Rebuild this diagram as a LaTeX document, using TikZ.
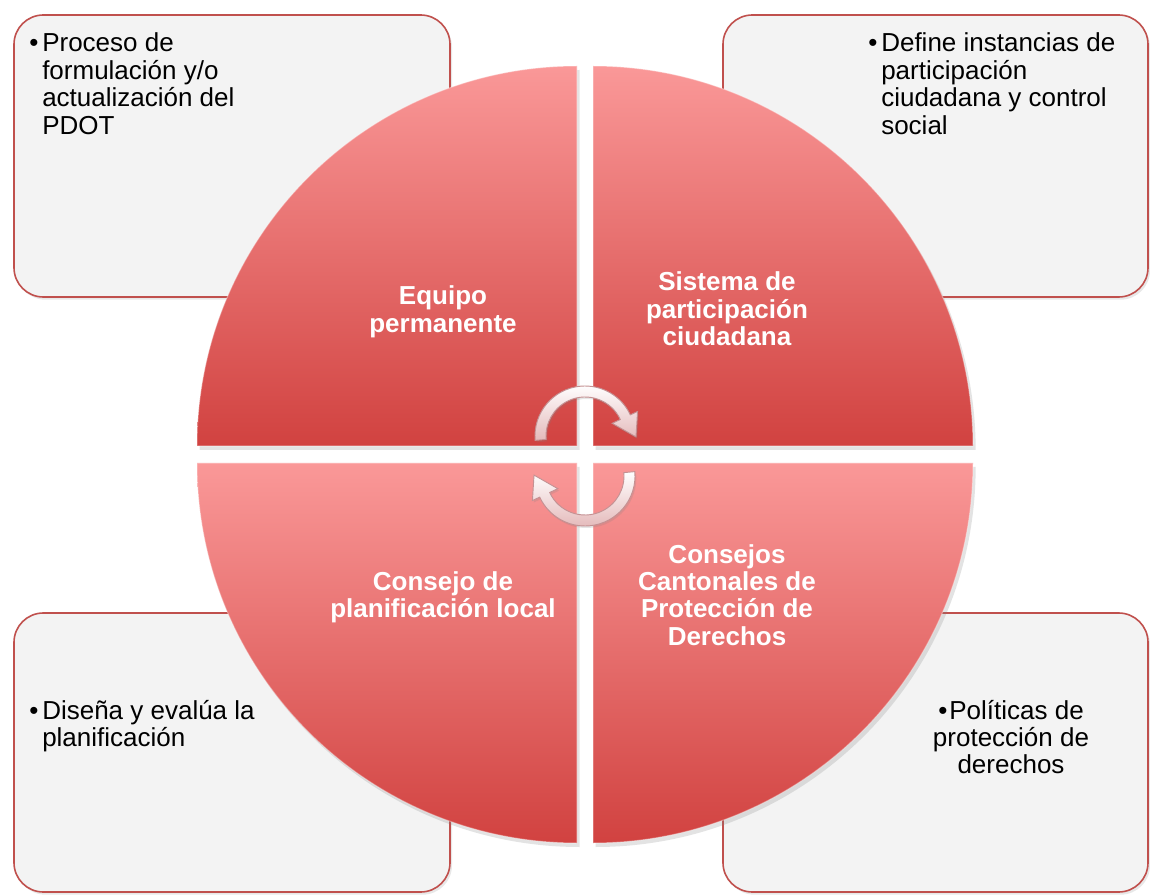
\documentclass[tikz,border=0pt]{standalone}
\usepackage{fontspec}
\setmainfont{Liberation Sans}
\usetikzlibrary{shadows}
\definecolor{boxfill}{RGB}{243,243,243}
\definecolor{boxline}{RGB}{192,80,77}
\definecolor{qlight}{RGB}{250,152,152}
\definecolor{qdark}{RGB}{209,66,64}
\definecolor{arrfill}{RGB}{228,185,186}
\definecolor{arrline}{RGB}{196,145,147}
\begin{document}
\begin{tikzpicture}[x=0.75pt,y=0.75pt,
  panel/.style={draw=boxline, line width=1.2pt, fill=boxfill, rounded corners=22pt, inner sep=0pt,
    drop shadow={opacity=0.18, shadow xshift=1.5pt, shadow yshift=-2pt}},
  quad/.style={top color=qlight, bottom color=qdark, draw=white, draw opacity=0.35, line width=0.8pt,
    drop shadow={opacity=0.22, shadow xshift=2pt, shadow yshift=-3pt}},
  quadtext/.style={text=white, font=\bfseries\fontsize{19.5}{20.6}\selectfont, inner sep=0pt, anchor=base},
  bodytext/.style={text=black, font=\fontsize{19.5}{20.6}\selectfont, inner sep=0pt},
  cyclearrow/.pic={
    \path[top color=white, bottom color=arrfill, draw=arrline, line width=0.7pt,
          drop shadow={opacity=0.2, shadow xshift=1pt, shadow yshift=-1.5pt}]
      (185:50) arc[start angle=185, end angle=25, radius=50]
      -- (25:58) -- (-1:51) -- (25:30) -- (25:39)
      arc[start angle=25, end angle=185, radius=39] -- cycle;
  }
]
\useasboundingbox (0,0) rectangle (1150,894);
\fill[white] (0,0) rectangle (1150,894);

% corner panels
\node[panel, minimum width=327pt, minimum height=211.5pt] (ptl) at (232,738) {};
\node[panel, minimum width=318.75pt, minimum height=211.5pt] (ptr) at (935.5,738) {};
\node[panel, minimum width=327pt, minimum height=209.25pt] (pbl) at (232,141.5) {};
\node[panel, minimum width=318.75pt, minimum height=209.25pt] (pbr) at (935.5,141.5) {};

% quadrants
\path[quad] (577,448) -- (197,448) arc[start angle=180, end angle=90, radius=380] -- cycle;
\path[quad] (593,448) -- (593,828) arc[start angle=90, end angle=0, radius=380] -- cycle;
\path[quad] (577,431) -- (577,51) arc[start angle=270, end angle=180, radius=380] -- cycle;
\path[quad] (593,431) -- (973,431) arc[start angle=0, end angle=-90, radius=380] -- cycle;

% cycle arrows
\pic at (585,458) {cyclearrow};
\pic[rotate=180] at (585,418) {cyclearrow};

% panel texts
\node[bodytext, anchor=base] (b1) at (34,842) {•};
\node[bodytext, anchor=base west] (t1) at (42,842)
  {\begin{tabular}[t]{@{}l@{}}Proceso de\\formulación y/o\\actualización del\\PDOT\end{tabular}};
\node[bodytext, anchor=base] (b2) at (873,842) {•};
\node[bodytext, anchor=base west] (t2) at (881,842)
  {\begin{tabular}[t]{@{}l@{}}Define instancias de\\participación\\ciudadana y control\\social\end{tabular}};
\node[bodytext, anchor=base] (b3) at (34,175) {•};
\node[bodytext, anchor=base west] (t3) at (42,175)
  {\begin{tabular}[t]{@{}l@{}}Diseña y evalúa la\\planificación\end{tabular}};
\node[bodytext, anchor=base] (t4) at (1011,175)
  {\begin{tabular}[t]{@{}c@{}}•\hspace{1.5pt}Políticas de\\protección de\\derechos\end{tabular}};

% quadrant texts
\node[quadtext] (q1) at (443,589)
  {\begin{tabular}[t]{@{}c@{}}Equipo\\permanente\end{tabular}};
\node[quadtext] (q2) at (727,603)
  {\begin{tabular}[t]{@{}c@{}}Sistema de\\participación\\ciudadana\end{tabular}};
\node[quadtext] (q3) at (443,304)
  {\begin{tabular}[t]{@{}c@{}}Consejo de\\planificación local\end{tabular}};
\node[quadtext] (q4) at (727,331)
  {\begin{tabular}[t]{@{}c@{}}Consejos\\Cantonales de\\Protección de\\Derechos\end{tabular}};
\end{tikzpicture}
\end{document}
